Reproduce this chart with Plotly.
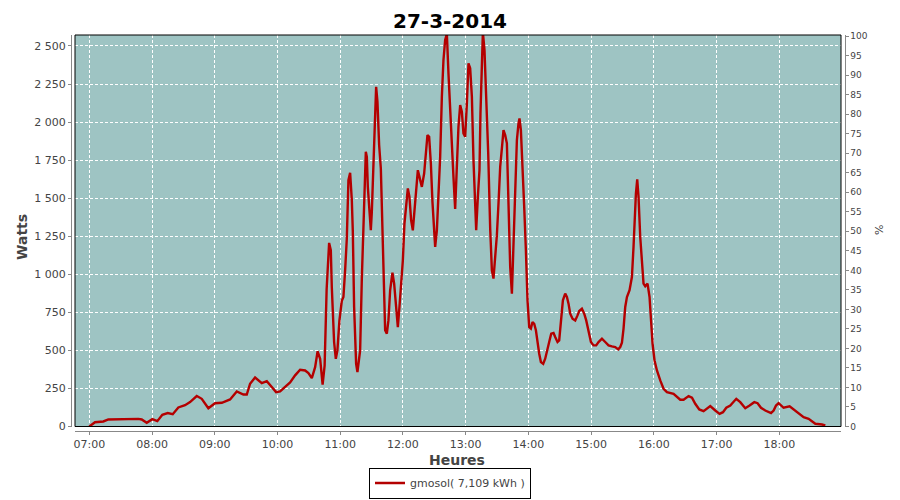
import plotly.graph_objects as go

DATE = "2014-03-27"
TITLE = "27-3-2014"
SERIES_NAME = "gmosol( 7,109 kWh )"

times = [
    "07:00:00", "07:05:27", "07:13:24", "07:18:11", "07:46:53", "07:50:08", "07:54:56", "08:00:17",
    "08:05:04", "08:09:51", "08:15:01", "08:19:48", "08:25:10", "08:31:35", "08:36:22", "08:42:46",
    "08:47:33", "08:53:52", "09:00:17", "09:06:42", "09:14:39", "09:21:03", "09:27:22", "09:30:37",
    "09:33:47", "09:38:34", "09:44:59", "09:49:46", "09:54:33", "09:58:40", "10:02:30", "10:07:17",
    "10:12:04", "10:16:51", "10:21:38", "10:26:25", "10:29:35", "10:32:50", "10:36:00", "10:38:23",
    "10:40:47", "10:43:10", "10:45:05", "10:47:00", "10:49:23", "10:51:00", "10:51:57", "10:54:09",
    "10:55:47", "10:57:19", "10:59:14", "11:01:32", "11:03:04", "11:04:41", "11:06:19", "11:07:51",
    "11:09:29", "11:11:06", "11:12:03", "11:13:18", "11:15:13", "11:16:28", "11:19:03", "11:20:40",
    "11:22:12", "11:23:09", "11:24:29", "11:25:27", "11:26:24", "11:27:56", "11:29:16", "11:30:14",
    "11:31:46", "11:33:23", "11:34:21", "11:35:36", "11:37:13", "11:38:51", "11:39:48", "11:41:20",
    "11:42:58", "11:44:35", "11:46:07", "11:47:45", "11:49:57", "11:51:35", "11:53:30", "11:55:07",
    "11:56:39", "11:58:17", "11:59:55", "12:01:26", "12:03:04", "12:04:41", "12:06:13", "12:07:50",
    "12:09:28", "12:11:00", "12:12:37", "12:14:15", "12:15:47", "12:18:04", "12:20:16", "12:21:54",
    "12:23:26", "12:25:04", "12:26:42", "12:28:14", "12:29:51", "12:30:49", "12:32:26", "12:33:58",
    "12:35:36", "12:37:13", "12:38:45", "12:40:23", "12:42:00", "12:43:32", "12:45:09", "12:46:47",
    "12:48:19", "12:49:56", "12:51:34", "12:53:06", "12:54:44", "12:56:21", "12:57:53", "12:59:31",
    "13:01:09", "13:02:41", "13:04:18", "13:05:56", "13:07:28", "13:09:05", "13:10:03", "13:11:40",
    "13:13:12", "13:14:09", "13:15:29", "13:16:27", "13:17:59", "13:19:37", "13:21:32", "13:23:27",
    "13:25:04", "13:26:36", "13:28:14", "13:29:51", "13:31:23", "13:33:01", "13:34:38", "13:36:10",
    "13:37:48", "13:39:25", "13:40:57", "13:42:35", "13:44:12", "13:45:44", "13:47:22", "13:48:59",
    "13:50:31", "13:51:29", "13:52:49", "13:54:21", "13:55:59", "13:57:36", "13:59:08", "14:00:46",
    "14:02:23", "14:03:55", "14:05:33", "14:07:10", "14:08:42", "14:10:20", "14:11:57", "14:14:09",
    "14:16:04", "14:17:41", "14:19:53", "14:21:48", "14:24:00", "14:25:38", "14:27:50", "14:29:27",
    "14:31:05", "14:33:00", "14:35:12", "14:36:50", "14:38:22", "14:40:00", "14:42:12", "14:44:47",
    "14:46:59", "14:48:37", "14:51:11", "14:53:23", "14:55:18", "14:57:30", "14:59:48", "15:02:17",
    "15:04:51", "15:07:04", "15:10:20", "15:13:29", "15:16:39", "15:19:54", "15:23:03", "15:25:55",
    "15:27:50", "15:29:27", "15:31:00", "15:32:37", "15:34:15", "15:36:44", "15:39:00", "15:40:33",
    "15:41:30", "15:42:50", "15:44:05", "15:45:20", "15:46:58", "15:48:35", "15:50:07", "15:51:45",
    "15:53:57", "15:55:52", "15:57:12", "15:58:44", "16:00:39", "16:02:57", "16:06:07", "16:09:16",
    "16:12:32", "16:18:51", "16:25:15", "16:28:25", "16:33:12", "16:36:27", "16:39:36", "16:43:26",
    "16:47:33", "16:50:48", "16:53:57", "16:58:45", "17:02:51", "17:06:06", "17:09:16", "17:13:05",
    "17:18:49", "17:22:39", "17:27:26", "17:31:33", "17:36:03", "17:39:13", "17:42:28", "17:46:35",
    "17:52:03", "17:54:33", "17:56:51", "17:59:19", "18:04:06", "18:09:51", "18:13:40", "18:18:28",
    "18:23:15", "18:28:02", "18:30:20", "18:34:27", "18:40:51", "18:44:01",
]

watts = [
    0, 28, 33, 46, 50, 46, 24, 48,
    35, 77, 88, 81, 125, 140, 160, 200,
    182, 120, 153, 156, 178, 230, 210, 210,
    281, 322, 285, 298, 259, 226, 230, 257,
    290, 336, 373, 368, 351, 318, 390, 494,
    445, 275, 400, 900, 1206, 1158, 916, 555,
    445, 500, 697, 825, 851, 1026, 1235, 1618,
    1667, 1487, 1279, 785, 412, 357, 500, 972,
    1268, 1531, 1805, 1772, 1574, 1421, 1289, 1410,
    1728, 2166, 2232, 2134, 1849, 1695, 1410, 939,
    632, 610, 697, 895, 1011, 939, 785, 653,
    785, 960, 1092, 1333, 1465, 1564, 1509, 1355,
    1289, 1432, 1553, 1684, 1640, 1574, 1662, 1816,
    1914, 1903, 1728, 1476, 1224, 1180, 1289, 1509,
    1772, 2166, 2408, 2540, 2580, 2320, 2057, 1838,
    1640, 1430, 1772, 1969, 2112, 2068, 1926, 1903,
    2123, 2386, 2353, 2166, 1750, 1443, 1289, 1509,
    1684, 2057, 2518, 2590, 2474, 2211, 1800, 1300,
    1026, 972, 1114, 1257, 1465, 1706, 1827, 1947,
    1914, 1860, 1465, 1048, 873, 1202, 1640, 1882,
    1991, 2024, 1947, 1728, 1443, 1158, 829, 653,
    643, 686, 675, 632, 544, 478, 423, 412,
    445, 500, 555, 610, 614, 588, 555, 566,
    697, 829, 873, 851, 807, 741, 708, 697,
    730, 759, 774, 741, 697, 621, 555, 533,
    533, 555, 577, 555, 533, 526, 522, 507,
    522, 550, 643, 785, 850, 895, 982, 1180,
    1333, 1531, 1623, 1509, 1245, 1092, 939, 921,
    939, 851, 697, 544, 434, 368, 303, 248,
    226, 215, 176, 176, 200, 189, 149, 112,
    101, 116, 134, 105, 83, 94, 123, 138,
    182, 160, 120, 138, 160, 153, 123, 105,
    88, 105, 138, 153, 123, 132, 110, 83,
    61, 50, 39, 18, 13, 7,
]

x_range = ["06:46:19", "18:59:00"]
watts_range = [0, 2572]
watts_ticks = [0, 250, 500, 750, 1000, 1250, 1500, 1750, 2000, 2250, 2500]
pct_range = [0, 100.3]
pct_ticks = list(range(0, 101, 5))

FONT = "DejaVu Sans"
TXT = "#444444"
AXIS_GRAY = "#888888"
GRID_DASH = "3px,2px"

# The page has an 8px body margin, so the figure is 8px smaller and
# page-pixel positions are converted to paper fractions.
OFF = 8
W, H = 900 - OFF, 500 - OFF


def px(xp):
    return (xp - OFF) / W


def py(yp):
    return (500 - yp) / H


fig = go.Figure()
fig.add_trace(go.Scatter(
    x=[f"{DATE} {t}" for t in times], y=watts, mode="lines",
    name=SERIES_NAME, line=dict(color="#B40000", width=2.4),
))
# invisible trace to hold the right (%) axis
fig.add_trace(go.Scatter(
    x=[f"{DATE} {x_range[0]}"], y=[0], yaxis="y2", mode="markers",
    marker=dict(opacity=0), showlegend=False, hoverinfo="skip",
))

XD = [px(75), px(841)]
YD = [py(426.5), py(35)]

fig.update_layout(
    width=W, height=H, autosize=False,
    margin=dict(l=0, r=0, t=0, b=0, pad=0),
    paper_bgcolor="white", plot_bgcolor="#9EC4C3",
    separators=", ",
    font=dict(family=FONT, size=11, color=TXT),
    showlegend=True,
    legend=dict(
        orientation="h", x=px(450), xanchor="center", y=py(498.5), yanchor="bottom",
        bordercolor="black", borderwidth=1, bgcolor="white",
        font=dict(family=FONT, size=11, color=TXT),
        itemwidth=30, tracegroupgap=0,
    ),
    xaxis=dict(
        type="date", domain=XD, anchor="free", position=py(430.5), automargin=False,
        range=[f"{DATE} {x_range[0]}", f"{DATE} {x_range[1]}"],
        dtick=3600000, tick0=f"{DATE} 07:00:00", tickformat="%H:%M",
        showline=True, linecolor=AXIS_GRAY, linewidth=1,
        ticks="outside", ticklen=3, tickcolor=AXIS_GRAY,
        showgrid=True, gridcolor="white", gridwidth=1, griddash=GRID_DASH,
        zeroline=False, tickfont=dict(family=FONT, size=11, color=TXT),
    ),
    yaxis=dict(
        domain=YD, anchor="free", position=px(71), automargin=False,
        range=watts_range, tickvals=watts_ticks, separatethousands=True,
        showline=True, linecolor=AXIS_GRAY, linewidth=1,
        ticks="outside", ticklen=3, tickcolor=AXIS_GRAY,
        showgrid=True, gridcolor="white", gridwidth=1, griddash=GRID_DASH,
        zeroline=False, tickfont=dict(family=FONT, size=11, color=TXT),
    ),
    yaxis2=dict(
        overlaying="y", side="right", anchor="free", position=px(844.5), automargin=False,
        range=pct_range, tickvals=pct_ticks,
        showline=True, linecolor=AXIS_GRAY, linewidth=1,
        ticks="outside", ticklen=3, tickcolor=AXIS_GRAY,
        showgrid=False, zeroline=False,
        tickfont=dict(family=FONT, size=9, color=TXT),
    ),
    shapes=[dict(
        type="rect", xref="x domain", yref="y domain", x0=0, x1=1, y0=0, y1=1,
        line=dict(color="black", width=1), fillcolor="rgba(0,0,0,0)", layer="above",
    )],
    annotations=[
        dict(text=f"<b>{TITLE}</b>", xref="paper", yref="paper", x=px(450), y=1,
             showarrow=False, font=dict(family=FONT, size=20, color="black"),
             xanchor="center", yanchor="top", borderpad=0),
        dict(text="<b>Watts</b>", xref="paper", yref="paper", x=px(22), y=py(237),
             showarrow=False, textangle=-90, font=dict(family=FONT, size=14, color=TXT),
             xanchor="center", yanchor="middle"),
        dict(text="<b>Heures</b>", xref="paper", yref="paper", x=px(457), y=py(460),
             showarrow=False, font=dict(family=FONT, size=14, color=TXT),
             xanchor="center", yanchor="middle"),
        dict(text="%", xref="paper", yref="paper", x=px(880), y=py(230),
             showarrow=False, textangle=-90, font=dict(family=FONT, size=11, color=TXT),
             xanchor="center", yanchor="middle"),
    ],
)

fig.write_html("out.html")
